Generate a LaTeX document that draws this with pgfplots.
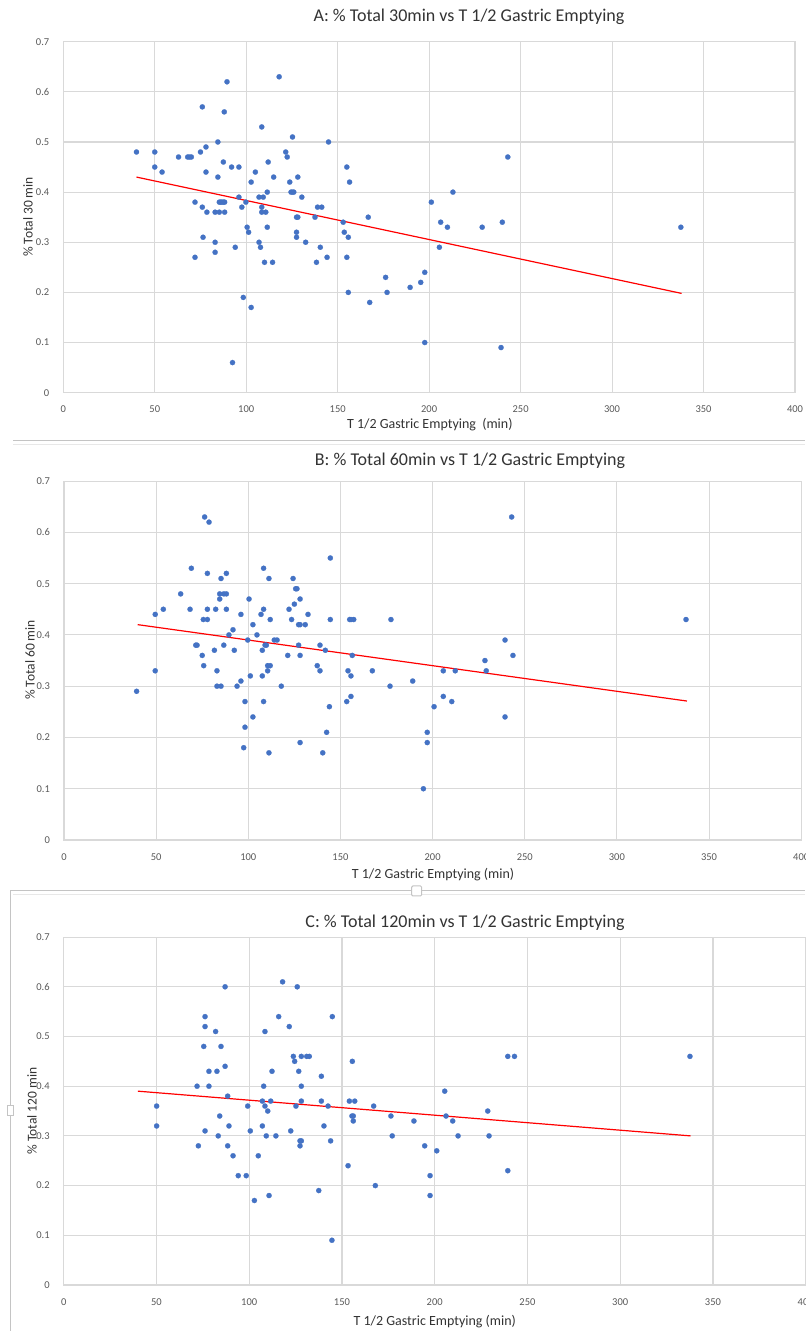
\documentclass[border=0pt]{standalone}
\usepackage{fontspec}
\setmainfont{Carlito}
\usepackage{pgfplots}
\pgfplotsset{compat=1.18}
\definecolor{dotc}{HTML}{4472C4}
\definecolor{gridc}{HTML}{D9D9D9}
\definecolor{tickc}{HTML}{595959}
\definecolor{txtc}{HTML}{333333}
\definecolor{trendc}{HTML}{FF0000}
\definecolor{sepc}{HTML}{C4C4C4}
\pgfplotsset{
  ge/.style={
    scale only axis, xmin=0, xmax=400, ymin=0, ymax=0.7,
    xtick={0,50,100,150,200,250,300,350,400},
    xticklabels={0,50,100,150,200,250,300,350,400},
    ytick={0,0.1,0.2,0.3,0.4,0.5,0.6,0.7},
    yticklabels={0,0.1,0.2,0.3,0.4,0.5,0.6,0.7},
    grid=major,
    major grid style={draw=gridc, line width=0.55pt},
    axis line style={draw=gridc, line width=0.55pt},
    major tick length=0pt,
    tick style={draw=none},
    ticklabel style={font=\fontsize{5.25}{6}\selectfont, text=tickc},
    xticklabel style={yshift=-3.2pt},
    yticklabel style={xshift=-3.5pt},
    clip=false,
  },
  dots/.style={only marks, mark=*, mark size=1.3pt, mark options={fill=dotc, draw=dotc, line width=0.1pt}},
  trend/.style={no marks, draw=trendc, line width=0.6pt},
}
\pgfplotstableread{
x y
40 0.48
50 0.48
50 0.45
54 0.44
63 0.47
68 0.47
69 0.47
70 0.47
75 0.48
76 0.57
78 0.49
78 0.44
84.5 0.50
84.5 0.43
87.5 0.46
88 0.56
89.5 0.62
92 0.45
96 0.45
72 0.38
76 0.37
78.5 0.36
83 0.36
85.3 0.38
86 0.38
86.7 0.38
87.5 0.38
88.2 0.38
85.3 0.36
88.2 0.36
76.4 0.31
83 0.30
72 0.27
83 0.28
94 0.29
96 0.39
97.6 0.37
99.8 0.38
102.7 0.42
105 0.44
100.5 0.33
101.3 0.32
98.4 0.19
102.7 0.17
92.5 0.06
108.5 0.53
112 0.46
107 0.39
109.3 0.39
111.5 0.40
108.5 0.37
108.5 0.36
110.7 0.36
111.5 0.33
107 0.30
107.8 0.29
110 0.26
114.4 0.26
115 0.43
118 0.63
121.6 0.48
122.4 0.47
125.3 0.51
123.8 0.42
124.5 0.40
125.3 0.40
126 0.40
128.2 0.43
130.4 0.39
127.5 0.35
128.2 0.35
127.5 0.32
127.5 0.31
132.5 0.30
137.6 0.35
139 0.37
141.3 0.37
140.5 0.29
138.4 0.26
144.2 0.27
145 0.50
153 0.34
153.6 0.32
155 0.45
156.5 0.42
155.8 0.31
155 0.27
155.8 0.20
166.7 0.35
167.5 0.18
176.2 0.23
177 0.20
189.6 0.21
195.4 0.22
197.6 0.24
197.6 0.10
201.2 0.38
206.3 0.34
205.6 0.29
210 0.33
213 0.40
229 0.33
240 0.34
239.3 0.09
243 0.47
337.6 0.33
}\dataA
\pgfplotstableread{
x y
39.4 0.29
49.5 0.44
49.5 0.33
53.9 0.45
63.3 0.48
68.4 0.45
69.1 0.53
71.5 0.38
72.2 0.38
75 0.36
75.6 0.43
75.8 0.34
76.3 0.63
77.8 0.43
77.8 0.45
77.8 0.52
78.7 0.62
81.6 0.37
82.3 0.45
83 0.33
83 0.30
84.5 0.48
84.5 0.47
85.2 0.51
85.2 0.30
86.7 0.48
86.7 0.38
88.1 0.48
88.1 0.52
88.1 0.45
89.5 0.40
91.7 0.41
92.4 0.37
93.9 0.30
96 0.44
96 0.31
97.5 0.18
98.2 0.27
98.2 0.22
99.7 0.39
100.4 0.47
101.1 0.32
102.5 0.42
102.5 0.24
104.7 0.40
106.9 0.44
107.6 0.37
107.6 0.32
108.3 0.53
108.3 0.45
108.3 0.27
109.1 0.38
109.8 0.38
110.5 0.34
110.5 0.33
111.2 0.51
111.2 0.17
111.9 0.43
111.9 0.34
114.1 0.39
115.6 0.39
117.9 0.30
121.4 0.36
122.1 0.45
123.5 0.43
124.3 0.51
125 0.46
125.7 0.49
126.4 0.49
127.3 0.42
127.3 0.38
128.1 0.47
128.1 0.42
128.1 0.36
128.1 0.19
130.9 0.42
132.4 0.44
137.4 0.34
138.9 0.38
138.9 0.33
140.4 0.17
141.8 0.37
142.5 0.21
144 0.26
144.5 0.55
144.5 0.43
153.4 0.27
154.1 0.33
155 0.43
155.7 0.43
157.2 0.43
155.7 0.32
155.7 0.28
156.4 0.36
167.3 0.33
176.9 0.30
177.4 0.43
189.2 0.31
195 0.10
197.1 0.21
197.1 0.19
200.8 0.26
205.8 0.33
205.8 0.28
210.4 0.27
212.3 0.33
228.4 0.35
229.1 0.33
239.3 0.39
239.3 0.24
242.9 0.63
243.6 0.36
337.5 0.43
}\dataB
\pgfplotstableread{
x y
50.1 0.36
50.1 0.32
71.9 0.40
72.6 0.28
75.5 0.48
76.2 0.54
76.2 0.52
76.2 0.31
78.3 0.43
78.3 0.40
81.9 0.51
82.6 0.43
83.3 0.30
84.1 0.34
84.8 0.48
87 0.60
87 0.44
88.4 0.38
88.4 0.28
89.1 0.32
91.3 0.26
94.1 0.22
98.4 0.22
99.2 0.36
100.6 0.31
102.8 0.17
104.9 0.26
107.1 0.37
107.1 0.32
107.8 0.40
108.5 0.51
108.5 0.36
109.2 0.30
110 0.35
110.7 0.18
111.6 0.37
112.3 0.43
114.4 0.30
115.9 0.54
118 0.61
121.6 0.52
122.4 0.31
123.8 0.46
124.5 0.45
125.2 0.36
125.9 0.60
126.7 0.43
127.4 0.29
127.4 0.28
128.1 0.46
128.1 0.40
128.1 0.37
128.1 0.29
131 0.46
132.4 0.46
137.5 0.19
138.9 0.42
138.9 0.37
140.3 0.32
142.5 0.36
143.9 0.29
144.6 0.09
144.8 0.54
153.3 0.24
154 0.37
155.4 0.34
155.6 0.45
156.1 0.34
156.1 0.33
156.9 0.37
167.1 0.36
168 0.20
176.4 0.34
177.1 0.30
188.8 0.33
194.6 0.28
197.5 0.22
197.5 0.18
201.1 0.27
205.4 0.39
206.1 0.34
209.7 0.33
212.6 0.30
228.6 0.35
229.3 0.30
239.4 0.46
239.4 0.23
243 0.46
337.6 0.46
}\dataC
\begin{document}
\begin{tikzpicture}
\path[use as bounding box] (0,0) rectangle (402.5pt,665.5pt);
% separators
\draw[sepc, line width=0.5pt] (6.5pt,445pt) -- (402.5pt,445pt);
\draw[gridc!60, line width=0.4pt] (6.5pt,443.5pt) -- (402.5pt,443.5pt);
\draw[sepc, line width=0.5pt] (5pt,0pt) -- (5pt,220pt) -- (402.5pt,220pt);
\draw[gridc!60, line width=0.4pt] (6.5pt,218.5pt) -- (402.5pt,218.5pt);
\draw[sepc, fill=white, line width=0.5pt, rounded corners=0.6pt] (205.85pt,217.5pt) rectangle (210.85pt,222.5pt);
\draw[sepc, fill=white, line width=0.5pt] (3.5pt,107.5pt) rectangle (6.5pt,112.5pt);
% Panel A
\begin{axis}[ge, at={(31.65pt,469.15pt)}, anchor=south west, width=365.85pt, height=175.5pt]
\addplot[dots] table[x=x,y=y] {\dataA};
\addplot[trend] coordinates {(40,0.430) (338,0.198)};
\end{axis}
\node[font=\fontsize{9}{10}\selectfont, text=txtc] at (234.5pt,657pt) {A: \% Total 30min vs T 1/2 Gastric Emptying};
\node[font=\fontsize{7}{8}\selectfont, text=txtc] at (214.9pt,453pt) {T 1/2 Gastric Emptying \ (min)};
\node[font=\fontsize{6.75}{8}\selectfont, text=txtc, rotate=90] at (14pt,557pt) {\% Total 30 min};
% Panel B
\begin{axis}[ge, at={(32pt,245.5pt)}, anchor=south west, width=368.6pt, height=179.45pt]
\addplot[dots] table[x=x,y=y] {\dataB};
\addplot[trend] coordinates {(40,0.420) (338,0.271)};
\end{axis}
\node[font=\fontsize{9}{10}\selectfont, text=txtc] at (235pt,435pt) {B: \% Total 60min vs T 1/2 Gastric Emptying};
\node[font=\fontsize{7}{8}\selectfont, text=txtc] at (216.5pt,228pt) {T 1/2 Gastric Emptying (min)};
\node[font=\fontsize{6.75}{8}\selectfont, text=txtc, rotate=90] at (15pt,335.5pt) {\% Total 60 min};
% Panel C
\begin{axis}[ge, at={(31.85pt,23pt)}, anchor=south west, width=371pt, height=173.95pt]
\addplot[dots] table[x=x,y=y] {\dataC};
\addplot[trend] coordinates {(40,0.390) (338,0.300)};
\end{axis}
\node[font=\fontsize{9}{10}\selectfont, text=txtc] at (232.5pt,204pt) {C: \% Total 120min vs T 1/2 Gastric Emptying};
\node[font=\fontsize{7}{8}\selectfont, text=txtc] at (217.4pt,4.5pt) {T 1/2 Gastric Emptying (min)};
\node[font=\fontsize{6.75}{8}\selectfont, text=txtc, rotate=90] at (16pt,110pt) {\% Total 120 min};
\end{tikzpicture}
\end{document}
